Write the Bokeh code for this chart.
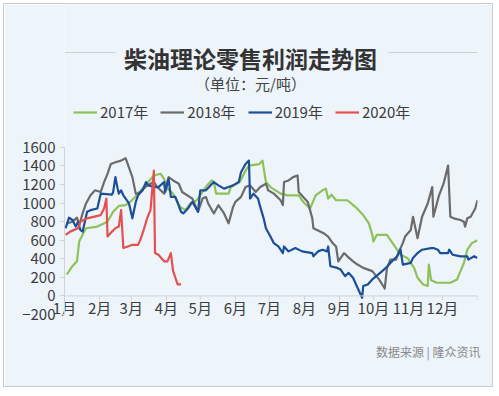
from bokeh.plotting import figure
from bokeh.models import (Range1d, FixedTicker, Label, Legend, LegendItem, Span,
                          BoxAnnotation, Title)
from bokeh.embed import file_html
from bokeh.resources import INLINE

# ---------------- data ----------------
months = ["1月", "2月", "3月", "4月", "5月", "6月", "7月", "8月", "9月", "10月", "11月", "12月"]
month_start = [0, 31, 59, 90, 120, 151, 181, 212, 243, 273, 304, 334]
year_end = 365
y_ticks = [-200, 0, 200, 400, 600, 800, 1000, 1200, 1400, 1600]

days_2017 = [2, 7, 11, 13, 16, 19, 29, 38, 43, 48, 54, 58, 64, 70, 79, 85, 88, 91, 96, 102,
             107, 111, 117, 122, 126, 130, 132, 134, 145, 147, 155, 160, 163, 172, 175, 178, 182, 191, 197, 207,
             211, 217, 222, 228, 231, 233, 236, 240, 250, 257, 264, 269, 272, 273, 276, 285, 291, 297, 303, 307,
             309, 312, 317, 321, 322, 324, 329, 341, 347, 353, 356, 360, 365]
vals_2017 = [231, 320, 373, 587, 658, 729, 747, 800, 907, 970, 978, 1013, 1084, 1173, 1298, 1316, 1262, 1156, 1102, 960,
             924, 996, 1031, 1120, 1191, 1244, 1227, 1102, 1102, 1173, 1227, 1351, 1404, 1420, 1458, 1227, 1173, 1102, 1084, 1084,
             1013, 942, 1084, 1138, 1156, 1049, 1090, 1031, 1031, 960, 871, 782, 658, 587, 658, 658, 551, 444, 409, 338,
             302, 196, 124, 107, 338, 170, 142, 142, 178, 356, 498, 569, 600]

days_2018 = [2, 7, 11, 13, 16, 19, 23, 27, 32, 35, 38, 41, 45, 50, 54, 60, 63, 64, 67, 73,
             79, 82, 88, 92, 96, 101, 104, 113, 118, 122, 125, 127, 132, 136, 141, 145, 149, 151, 156, 160,
             164, 169, 173, 178, 180, 185, 191, 193, 194, 198, 202, 206, 207, 215, 219, 220, 229, 233, 237, 240,
             242, 247, 250, 255, 259, 264, 272, 278, 283, 285, 288, 293, 295, 299, 301, 306, 308, 312, 316, 321,
             325, 326, 331, 335, 339, 341, 344, 350, 353, 354, 356, 359, 363, 365]
vals_2018 = [782, 800, 843, 764, 889, 996, 1084, 1138, 1120, 1227, 1316, 1422, 1440, 1458, 1484, 1280, 1102, 1102, 1120, 1191,
             1227, 1173, 1102, 1280, 1244, 1209, 1120, 1049, 907, 1049, 1067, 996, 889, 978, 889, 782, 960, 1013, 1067, 1173,
             1191, 1120, 1173, 1209, 1138, 1102, 1031, 978, 1227, 1244, 1280, 1298, 1120, 1013, 836, 729, 676, 640, 569, 533,
             373, 462, 427, 373, 338, 302, 267, 178, 80, 300, 391, 391, 462, 569, 640, 711, 853, 622, 853, 996,
             1173, 853, 1084, 1209, 1404, 853, 836, 818, 800, 747, 836, 853, 942, 1031]

days_2019 = [1, 4, 7, 10, 12, 14, 16, 20, 23, 29, 32, 42, 43, 45, 47, 48, 50, 52, 57, 60,
             63, 65, 69, 72, 74, 79, 83, 88, 89, 92, 94, 98, 103, 105, 109, 113, 118, 120, 125, 129,
             132, 136, 141, 145, 149, 154, 156, 160, 163, 164, 167, 171, 173, 176, 178, 182, 185, 189, 193, 194,
             198, 204, 210, 219, 220, 224, 228, 232, 233, 235, 241, 244, 248, 251, 255, 259, 263, 264, 268, 272,
             279, 284, 288, 294, 297, 299, 306, 308, 312, 316, 324, 326, 330, 332, 339, 340, 343, 350, 356, 357,
             362, 365]
vals_2019 = [729, 843, 818, 747, 800, 711, 693, 907, 924, 942, 1102, 1091, 1120, 1280, 1156, 1102, 1138, 1084, 996, 836,
             1013, 1084, 1138, 1227, 1191, 1173, 1173, 1227, 1120, 1262, 1067, 1067, 907, 889, 942, 1013, 907, 1138, 1138, 1191,
             1227, 1191, 1156, 1173, 1191, 1227, 1333, 1422, 1458, 1049, 1102, 1049, 960, 836, 729, 640, 569, 533, 462, 533,
             480, 516, 480, 462, 427, 480, 498, 480, 533, 320, 302, 284, 213, 249, 196, 89, -20, 107, 124, 178,
             249, 302, 356, 427, 498, 338, 356, 409, 462, 498, 516, 516, 498, 462, 462, 498, 444, 427, 427, 391,
             427, 409]

days_2020 = [1, 5, 12, 14, 20, 32, 35, 37, 38, 42, 45, 48, 50, 52, 56, 60, 65, 67, 70, 73,
             76, 79, 80, 83, 88, 91, 94, 96, 100, 103]
vals_2020 = [658, 693, 729, 800, 836, 871, 942, 1049, 640, 693, 729, 747, 924, 516, 533, 551, 551, 604, 711, 836,
             924, 1351, 462, 444, 373, 373, 462, 267, 124, 124]

series_names = ["2017年", "2018年", "2019年", "2020年"]
series_colors = ["#8dc15a", "#6b6b6b", "#1d4f99", "#e5504f"]

# ---------------- figure ----------------
BG = "#edf4fa"
FONT = "Noto Sans CJK SC"
W, H = 490, 384

# plot area spans from the top of the card down to -200; upper part holds title & legend
p = figure(width=W, height=H, output_backend="svg", toolbar_location=None,
           x_range=Range1d(0, year_end), y_range=Range1d(-200, 3140),
           min_border_left=60, min_border_right=17, min_border_top=0, min_border_bottom=74,
           styles={"margin": "3px", "border": "1px solid #c9cccf"})
p.background_fill_color = BG
p.border_fill_color = BG
p.outline_line_color = None
p.xgrid.visible = False
p.ygrid.visible = False

# y axis
p.yaxis.ticker = FixedTicker(ticks=y_ticks)
p.yaxis.bounds = (-200, 1600)
p.yaxis.axis_line_color = "#cfd3d6"
p.yaxis.major_tick_line_color = "#cfd3d6"
p.yaxis.major_tick_out = 4
p.yaxis.major_tick_in = 0
p.yaxis.minor_tick_line_color = None
p.yaxis.major_label_standoff = 5
p.yaxis.major_label_text_font = FONT
p.yaxis.major_label_text_font_size = "15px"
p.yaxis.major_label_text_color = "#3c3c3c"

# x axis (labels only; the axis line is drawn at value 0)
p.xaxis.ticker = FixedTicker(ticks=month_start)
p.xaxis.major_label_overrides = {m: lab for m, lab in zip(month_start, months)}
p.xaxis.axis_line_color = None
p.xaxis.major_tick_line_color = None
p.xaxis.minor_tick_line_color = None
p.xaxis.major_tick_out = 0
p.xaxis.major_label_standoff = -18
p.xaxis.major_label_text_font = FONT
p.xaxis.major_label_text_font_size = "15px"
p.xaxis.major_label_text_color = "#3c3c3c"

# source note below the axis
p.add_layout(Title(text="数据来源 | 隆众资讯", align="right", offset=-3, standoff=40,
                   text_font=FONT, text_font_size="12px", text_font_style="normal",
                   text_color="#8a8a8a"), "below")

p.add_layout(Span(location=0, dimension="width", line_color="#cfd3d6", line_width=1))
tick_x = month_start + [year_end]
p.segment(x0=tick_x, y0=[0] * len(tick_x), x1=tick_x, y1=[-45] * len(tick_x),
          line_color="#cfd3d6", line_width=1)

# series
all_days = [days_2017, days_2018, days_2019, days_2020]
all_vals = [vals_2017, vals_2018, vals_2019, vals_2020]
items = []
for d, v, name, col in zip(all_days, all_vals, series_names, series_colors):
    r = p.line(d, v, line_color=col, line_width=2.2, line_join="round")
    items.append(LegendItem(label=name, renderers=[r]))

legend = Legend(items=items, orientation="horizontal", location=(9, 192),
                label_text_font=FONT, label_text_font_size="15px", label_text_color="#3c3c3c",
                glyph_width=24, glyph_height=18, label_standoff=3, spacing=12,
                padding=0, margin=0, background_fill_alpha=0, border_line_alpha=0)
p.add_layout(legend, "center")

# title, subtitle (screen units relative to the plot area's bottom-left)
p.add_layout(Label(x=186, y=257, x_units="screen", y_units="screen", text="柴油理论零售利润走势图",
                   text_font=FONT, text_font_size="23px", text_font_style="bold",
                   text_color="#333333", text_align="center", text_baseline="middle"))
p.add_layout(Label(x=186, y=231, x_units="screen", y_units="screen", text="（单位：元/吨）",
                   text_font=FONT, text_font_size="15px",
                   text_color="#444444", text_align="center", text_baseline="middle"))

# decorative lines beside the title
p.add_layout(BoxAnnotation(left=0, right=51, bottom=261.5, top=262.5,
                           left_units="screen", right_units="screen",
                           bottom_units="screen", top_units="screen",
                           fill_color="#cdd1d4", fill_alpha=1, line_color=None))
p.add_layout(BoxAnnotation(left=324, right=413, bottom=261.5, top=262.5,
                           left_units="screen", right_units="screen",
                           bottom_units="screen", top_units="screen",
                           fill_color="#cdd1d4", fill_alpha=1, line_color=None))

open("out.html", "w").write(file_html(p, INLINE))
